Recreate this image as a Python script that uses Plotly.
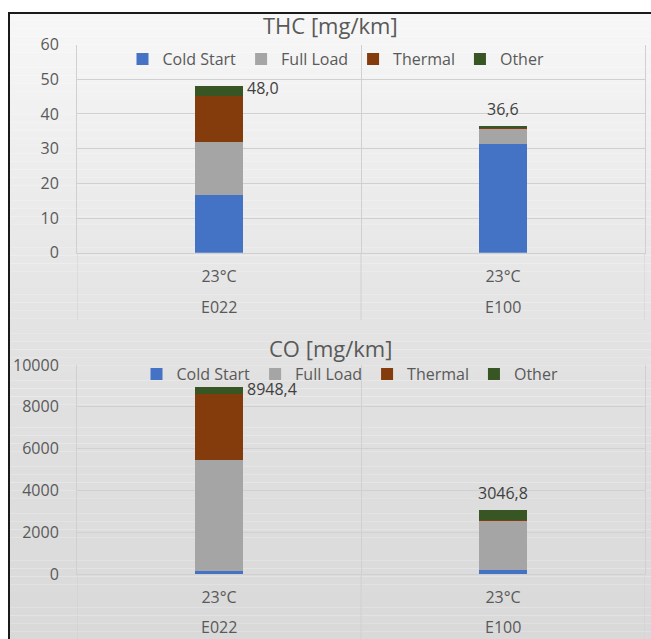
import plotly.graph_objects as go

# Emission contributions per driving phase, two fuels tested at 23 °C
series = ["Cold Start", "Full Load", "Thermal", "Other"]
colors = ["#4472C4", "#A5A5A5", "#843C0C", "#375623"]
fuels = ["E022", "E100"]
temps = ["23°C", "23°C"]

# THC [mg/km]
thc_cold = [16.7, 31.3]
thc_full = [15.3, 4.6]
thc_thermal = [13.2, 0.2]
thc_other = [2.8, 0.5]

# CO [mg/km]
co_cold = [140.0, 180.0]
co_full = [5296.0, 2370.0]
co_thermal = [3170.0, 15.0]
co_other = [342.4, 481.8]

W, H = 651, 639
FONT = "Open Sans"
TXT = "#595959"
GRID = "#d0d0d0"


def px_x(v):
    return v / W


def px_y(v):
    return 1 - v / H


fig = go.Figure()

# (x axis, y axis, legend, stacked series, axis bottom px, divider end px, fuel label px)
panels = [
    ("x", "y", "legend", [thc_cold, thc_full, thc_thermal, thc_other], 252.7, 320, 307),
    ("x2", "y2", "legend2", [co_cold, co_full, co_thermal, co_other], 574, 639, 627),
]
for xa, ya, lg, data, *_ in panels:
    for name, color, vals in zip(series, colors, data):
        fig.add_trace(go.Bar(
            x=fuels, y=vals, name=name, marker=dict(color=color, line=dict(width=0)),
            xaxis=xa, yaxis=ya, legend=lg,
        ))

common_x = dict(
    type="category", categoryorder="array", categoryarray=fuels,
    range=[-0.5, len(fuels) - 0.5],
    tickmode="array", tickvals=fuels, ticktext=temps, tickson="boundaries",
    showgrid=True, gridcolor=GRID, showline=True, linecolor=GRID,
    ticks="", ticklabelstandoff=9,
    tickfont=dict(family=FONT, size=16, color=TXT),
    domain=[px_x(77), px_x(645)], automargin=False,
)
common_y = dict(
    showgrid=True, gridcolor=GRID, zeroline=False,
    showline=True, mirror=True, linecolor=GRID, ticks="",
    tickfont=dict(family=FONT, size=16, color=TXT), ticklabelstandoff=14,
    tickformat="d", automargin=False,
)

legend_common = dict(
    orientation="h", xanchor="center", yanchor="middle",
    bgcolor="rgba(0,0,0,0)", font=dict(family=FONT, size=16, color=TXT),
    itemwidth=30, traceorder="normal",
)

# background gradient and frame
shapes = []
n = 80
top, bot = 13, H
stops = [(13, 247), (330, 227), (639, 217)]


def shade(yp):
    for (y0, c0), (y1, c1) in zip(stops[:-1], stops[1:]):
        if y0 <= yp <= y1:
            return c0 + (c1 - c0) * (yp - y0) / (y1 - y0)
    return stops[-1][1]


for i in range(n):
    y0 = top + (bot - top) * i / n
    y1 = top + (bot - top) * (i + 1) / n
    g = int(round(shade((y0 + y1) / 2)))
    shapes.append(dict(
        type="rect", xref="paper", yref="paper", layer="below",
        x0=px_x(9), x1=1, y0=px_y(y1), y1=px_y(y0),
        fillcolor=f"rgb({g},{g},{g})", line=dict(width=0),
    ))
shapes.append(dict(type="line", xref="paper", yref="paper", x0=px_x(9), x1=px_x(9),
                   y0=0, y1=px_y(12), line=dict(color="#1a1a1a", width=2)))
shapes.append(dict(type="line", xref="paper", yref="paper", x0=px_x(8), x1=1,
                   y0=px_y(13), y1=px_y(13), line=dict(color="#1a1a1a", width=2)))


def fmt(v):
    return f"{v:.1f}".replace(".", ",")


annotations = [
    dict(text="THC [mg/km]", xref="paper", yref="paper", x=px_x(331), y=px_y(25),
         yanchor="middle", showarrow=False, font=dict(family=FONT, size=22, color=TXT)),
    dict(text="CO [mg/km]", xref="paper", yref="paper", x=px_x(331), y=px_y(348),
         yanchor="middle", showarrow=False, font=dict(family=FONT, size=22, color=TXT)),
]
for xa, ya, _, data, axis_px, div_px, fuel_px in panels:
    # category group dividers below the axis
    for b in range(len(fuels) + 1):
        shapes.append(dict(type="line", xref=xa, yref="paper", x0=b - 0.5, x1=b - 0.5,
                           y0=px_y(div_px), y1=px_y(axis_px),
                           line=dict(color=GRID, width=1)))
    # outer category level (fuel)
    for i, fuel in enumerate(fuels):
        annotations.append(dict(
            text=fuel, xref=xa, yref="paper", x=i, y=px_y(fuel_px),
            xanchor="center", yanchor="middle", showarrow=False,
            font=dict(family=FONT, size=16, color=TXT)))
    # stack totals
    totals = [sum(v[i] for v in data) for i in range(len(fuels))]
    for i, tot in enumerate(totals):
        if i == 0:
            annotations.append(dict(
                text=fmt(tot), xref=xa, yref=ya, x=i, y=tot, xanchor="left",
                yanchor="middle", xshift=26, yshift=-2, showarrow=False,
                font=dict(family=FONT, size=16, color="#404040")))
        else:
            annotations.append(dict(
                text=fmt(tot), xref=xa, yref=ya, x=i, y=tot, xanchor="center",
                yanchor="bottom", yshift=4, showarrow=False,
                font=dict(family=FONT, size=16, color="#404040")))

fig.update_layout(
    width=W, height=H, autosize=False,
    margin=dict(l=0, r=0, t=0, b=0, pad=0, autoexpand=False),
    paper_bgcolor="white", plot_bgcolor="rgba(0,0,0,0)",
    barmode="stack", bargap=0.834,
    font=dict(family=FONT, color=TXT),
    xaxis=dict(common_x, anchor="y"),
    yaxis=dict(common_y, anchor="x", domain=[px_y(252.7), px_y(44.6)],
               range=[0, 60], dtick=10),
    xaxis2=dict(common_x, anchor="y2"),
    yaxis2=dict(common_y, anchor="x2", domain=[px_y(574), px_y(364.9)],
                range=[0, 10000], dtick=2000),
    legend=dict(legend_common, x=px_x(336), y=px_y(59)),
    legend2=dict(legend_common, x=px_x(350), y=px_y(374)),
    shapes=shapes,
    annotations=annotations,
    showlegend=True,
)

fig.write_html("out.html")
